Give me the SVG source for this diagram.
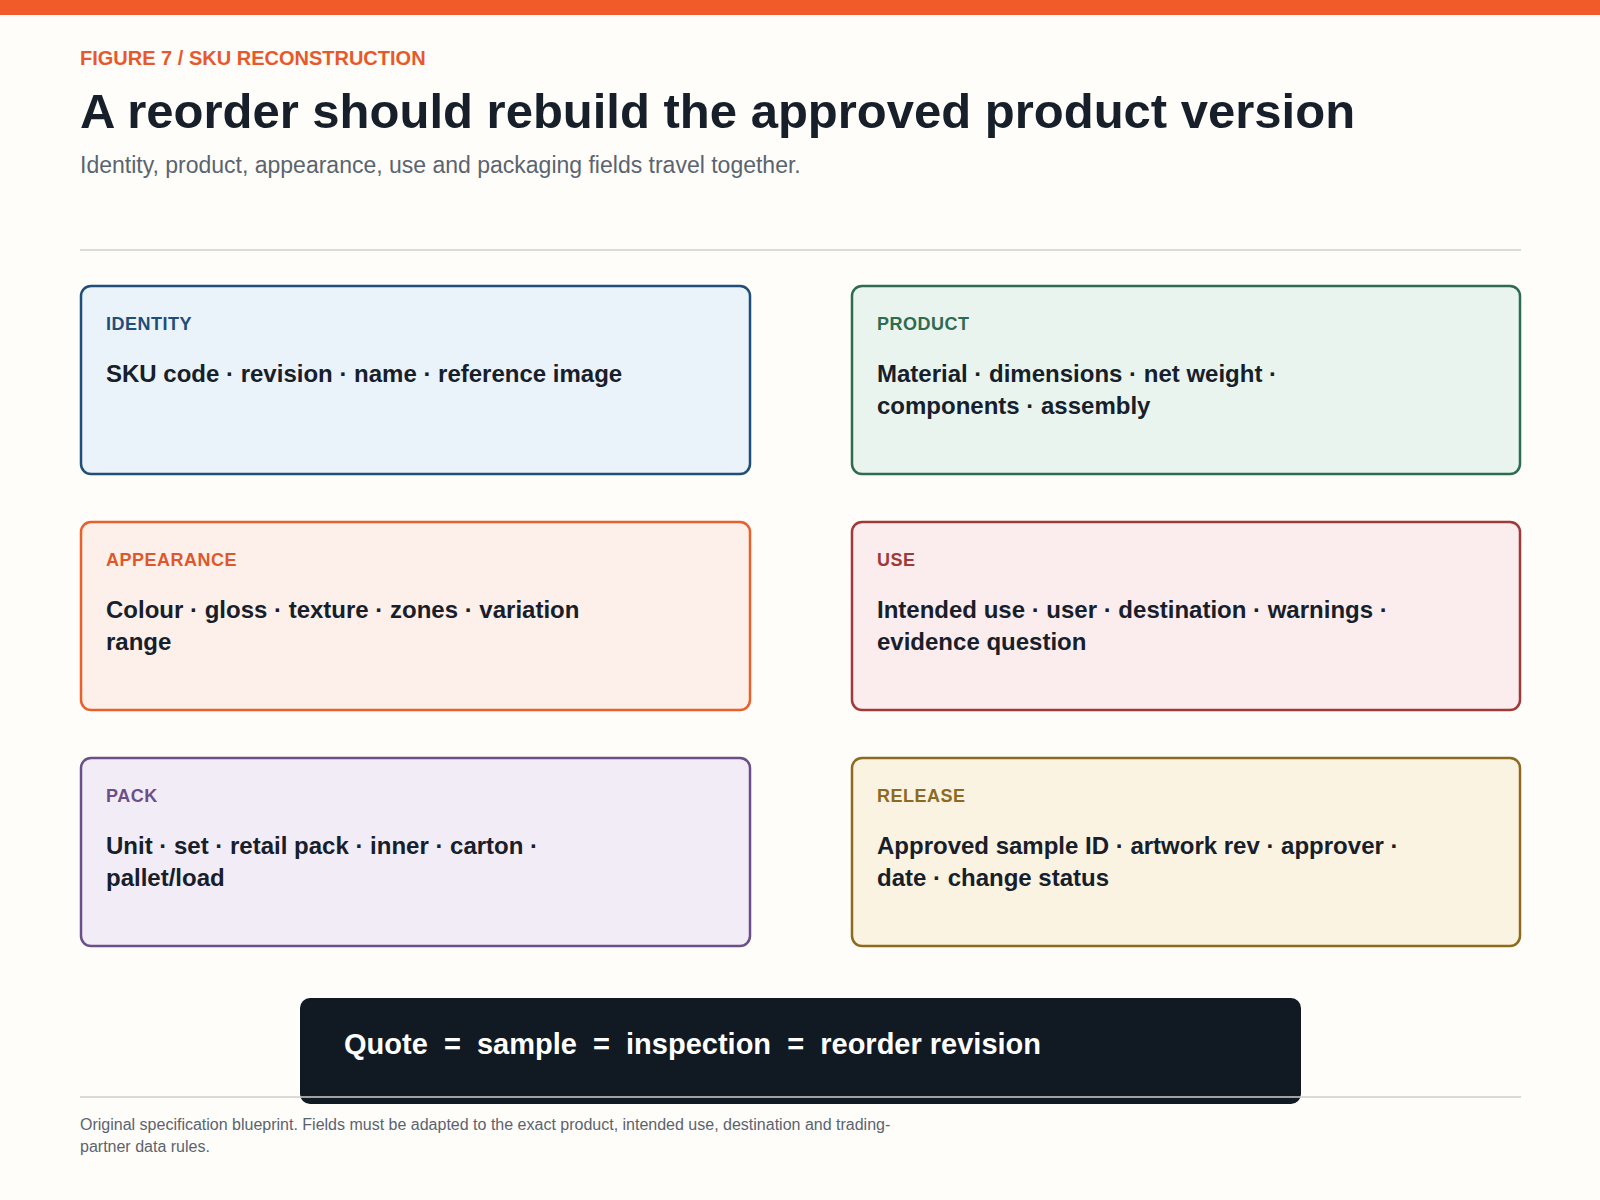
<svg xmlns="http://www.w3.org/2000/svg" width="1600" height="1200" viewBox="0 0 1600 1200">
<style>
text{font-family:"Liberation Sans",Arial,sans-serif}
.lab{font-size:18px;font-weight:bold;letter-spacing:0.5px}
.body{font-size:24px;font-weight:bold;fill:#17202a}
.box{stroke-width:2.5}
</style>
<rect width="1600" height="1200" fill="#fffdf9"/>
<rect width="1600" height="15" fill="#f15a29"/>
<text x="80" y="65" font-size="20" font-weight="bold" fill="#e8582a">FIGURE 7 / SKU RECONSTRUCTION</text>
<text x="80" y="128" font-size="49" font-weight="bold" fill="#17202a">A reorder should rebuild the approved product version</text>
<text x="80" y="173" font-size="23" fill="#5a6470">Identity, product, appearance, use and packaging fields travel together.</text>
<line x1="80" y1="250" x2="1521" y2="250" stroke="#cfcfcf" stroke-width="1.5"/>
<g id="identity"><rect class="box" x="81" y="286" width="669" height="188" rx="10" fill="#eaf2fa" stroke="#1f4e79"/><text class="lab" x="106" y="330" fill="#1f4e79">IDENTITY</text><text class="body" x="106" y="382">SKU code · revision · name · reference image</text></g>
<g id="product"><rect class="box" x="852" y="286" width="668" height="188" rx="10" fill="#e9f4ef" stroke="#2e6b50"/><text class="lab" x="877" y="330" fill="#2e6b50">PRODUCT</text><text class="body" x="877" y="382">Material · dimensions · net weight ·</text><text class="body" x="877" y="414">components · assembly</text></g>
<g id="appearance"><rect class="box" x="81" y="522" width="669" height="188" rx="10" fill="#fdf0ea" stroke="#e8602c"/><text class="lab" x="106" y="566" fill="#e0582a">APPEARANCE</text><text class="body" x="106" y="618">Colour · gloss · texture · zones · variation</text><text class="body" x="106" y="650">range</text></g>
<g id="use"><rect class="box" x="852" y="522" width="668" height="188" rx="10" fill="#fbedee" stroke="#9e3a3a"/><text class="lab" x="877" y="566" fill="#9e3a3a">USE</text><text class="body" x="877" y="618">Intended use · user · destination · warnings ·</text><text class="body" x="877" y="650">evidence question</text></g>
<g id="pack"><rect class="box" x="81" y="758" width="669" height="188" rx="10" fill="#f2ecf6" stroke="#6b4f8a"/><text class="lab" x="106" y="802" fill="#6b4f8a">PACK</text><text class="body" x="106" y="854">Unit · set · retail pack · inner · carton ·</text><text class="body" x="106" y="886">pallet/load</text></g>
<g id="release"><rect class="box" x="852" y="758" width="668" height="188" rx="10" fill="#fbf3e2" stroke="#8c6a1f"/><text class="lab" x="877" y="802" fill="#8c6a1f">RELEASE</text><text class="body" x="877" y="854">Approved sample ID · artwork rev · approver ·</text><text class="body" x="877" y="886">date · change status</text></g>
<g id="equation"><rect x="300" y="998" width="1001" height="106" rx="10" fill="#111a22"/><text x="344" y="1054" font-size="29" font-weight="bold" fill="#fff" xml:space="preserve">Quote  =  sample  =  inspection  =  reorder revision</text></g>
<g id="connectors"/>
<line x1="80" y1="1097" x2="1521" y2="1097" stroke="#cfcfcf" stroke-width="1.5"/>
<text x="80" y="1130" font-size="16" fill="#5a6470">Original specification blueprint. Fields must be adapted to the exact product, intended use, destination and trading-</text>
<text x="80" y="1152" font-size="16" fill="#5a6470">partner data rules.</text>
</svg>
